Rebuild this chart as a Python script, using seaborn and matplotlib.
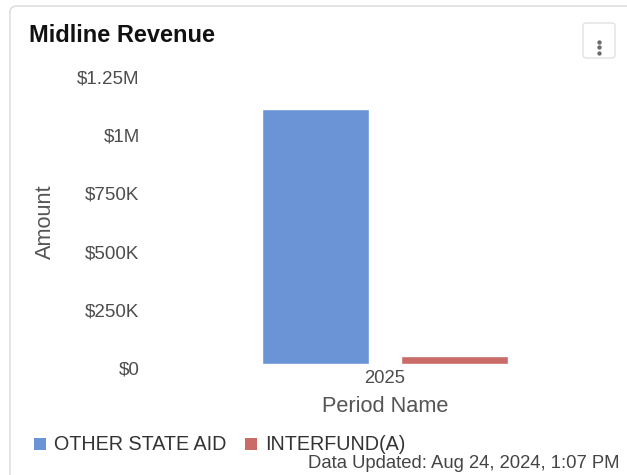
import matplotlib
matplotlib.use("Agg")
import matplotlib.pyplot as plt
import matplotlib.transforms as mtransforms
from matplotlib.patches import FancyBboxPatch, Patch
from matplotlib.ticker import FuncFormatter
import seaborn as sns
import pandas as pd

# Chart data
periods = ["2025", "2025"]
series = ["OTHER STATE AID", "INTERFUND(A)"]
amounts = [1094000, 36000]
colors = ["#6b94d7", "#c96b66"]
y_ticks = [0, 250000, 500000, 750000, 1000000, 1250000]

df = pd.DataFrame({"Period Name": periods, "Series": series, "Amount": amounts})

sns.set_theme(style="white")
plt.rcParams["font.family"] = ["Liberation Sans", "DejaVu Sans"]

W, H = 627, 475
fig = plt.figure(figsize=(W / 100, H / 100), dpi=100)
fig.patch.set_facecolor("white")


def fx(x):
    return x / W


def fy(y):
    return 1 - y / H


# Card outline
card = FancyBboxPatch((fx(10), fy(500)), fx(640), 494 / H,
                      boxstyle="round,pad=0,rounding_size=0.012",
                      transform=fig.transFigure, facecolor="none",
                      edgecolor="#d9d9de", linewidth=1.0)
fig.patches.append(card)

# Menu button
btn = FancyBboxPatch((fx(583), fy(58)), fx(32), 35 / H,
                     boxstyle="round,pad=0,rounding_size=0.006",
                     transform=fig.transFigure, facecolor="white",
                     edgecolor="#e2e2e6", linewidth=1.0)
fig.patches.append(btn)
for yy in (41.5, 47, 52.5):
    fig.lines.append(plt.Line2D([fx(599)], [fy(yy)], marker="o", markersize=2.1,
                                color="#6a6a6a", transform=fig.transFigure))

fig.text(fx(29), fy(35), "Midline Revenue", fontsize=17, fontweight="bold",
         color="#111111", ha="left", va="center")

ax = fig.add_axes([fx(150), fy(364), fx(470), 291 / H])
sns.barplot(data=df, x="Period Name", y="Amount", hue="Series",
            palette=dict(zip(series, colors)), width=0.8, gap=0.23,
            saturation=1, ax=ax, legend=True, err_kws={"linewidth": 0})

ax.set_xlim(-0.676, 0.676)
ax.set_ylim(0, 1250000)
ax.set_yticks(y_ticks)


def money(v, _):
    if v == 0:
        return "$0"
    if v >= 1e6:
        return f"${v / 1e6:g}M"
    return f"${v / 1e3:g}K"


ax.yaxis.set_major_formatter(FuncFormatter(money))
ax.tick_params(axis="y", length=0, pad=7.5, labelsize=13.5, labelcolor="#4d4d4d")
ax.tick_params(axis="x", length=0, pad=4, labelsize=13.3, labelcolor="#4d4d4d")
shift = mtransforms.ScaledTranslation(0, -4 / 100, fig.dpi_scale_trans)
for lab in ax.get_yticklabels():
    lab.set_transform(lab.get_transform() + shift)

for s in ax.spines.values():
    s.set_visible(False)
ax.grid(False)

ax.set_xlabel("Period Name", fontsize=15.7, color="#555555")
ax.xaxis.set_label_coords(0.5, (364 - 406) / 291)
ax.xaxis.label.set_verticalalignment("center")
ax.set_ylabel("Amount", fontsize=15.7, color="#555555")
ax.yaxis.set_label_coords((45 - 150) / 470, (364 - 222) / 291)
ax.yaxis.label.set_verticalalignment("center")

ax.get_legend().remove()
handles = [Patch(facecolor=c, edgecolor="none") for c in colors]
fig.legend(handles, series, loc="center left",
           bbox_to_anchor=(fx(34), fy(445)), bbox_transform=fig.transFigure,
           ncol=2, frameon=False, fontsize=14.2, labelcolor="#333333",
           handlelength=0.61, handleheight=0.56, handletextpad=0.41,
           columnspacing=0.96, borderaxespad=0, borderpad=0)

fig.text(fx(620), fy(463), "Data Updated: Aug 24, 2024, 1:07 PM", fontsize=13.3,
         color="#444444", ha="right", va="center")

fig.savefig("out.png", dpi=100)
